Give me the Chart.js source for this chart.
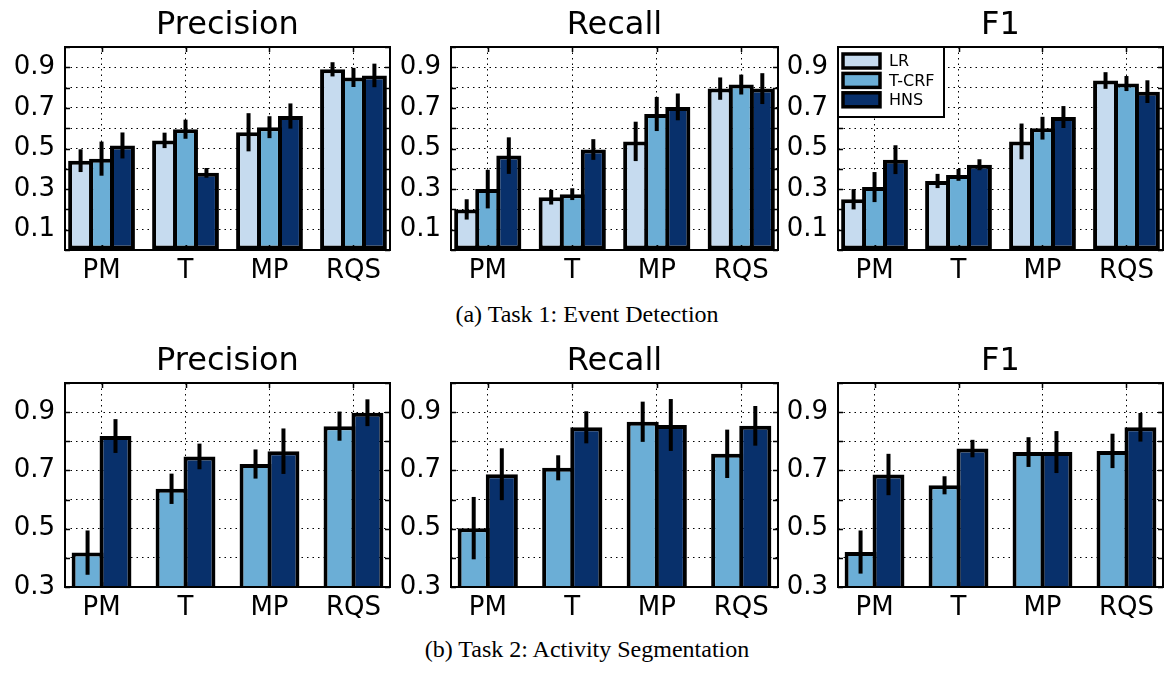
<!DOCTYPE html>
<html>
<head>
<meta charset="utf-8">
<script src="https://cdn.jsdelivr.net/npm/chart.js@4.4.1/dist/chart.umd.min.js"></script>
<style>
  body { margin: 0; width: 1166px; height: 673px; background: #fff; position: relative; overflow: hidden; }
  canvas { position: absolute; }
  .caption { position: absolute; left: 0; width: 1174px; text-align: center; font-family: "Liberation Serif", serif; font-size: 24px; line-height: 24px; color: #000; }
</style>
</head>
<body>
<canvas id="p1" width="392" height="290" style="left:0;top:0"></canvas>
<canvas id="p2" width="390" height="290" style="left:392px;top:0"></canvas>
<canvas id="p3" width="384" height="290" style="left:782px;top:0"></canvas>
<div class="caption" style="top:302px">(a) Task 1: Event Detection</div>
<canvas id="p4" width="392" height="291" style="left:0;top:336px"></canvas>
<canvas id="p5" width="390" height="291" style="left:392px;top:336px"></canvas>
<canvas id="p6" width="384" height="291" style="left:782px;top:336px"></canvas>
<div class="caption" style="top:637px">(b) Task 2: Activity Segmentation</div>
<script>
const categories = ["PM", "T", "MP", "RQS"];
const methods = ["LR", "T-CRF", "HNS"];
const methodColors = ["#c6dbef", "#6baed6", "#08306b"];
const topTickLabels = ["0.1", "0.3", "0.5", "0.7", "0.9"];
const bottomTickLabels = ["0.3", "0.5", "0.7", "0.9"];

// Task 1: rows are LR, T-CRF, HNS
const t1Precision = [[0.44, 0.54, 0.58, 0.89], [0.45, 0.595, 0.605, 0.85], [0.515, 0.38, 0.66, 0.86]];
const t1PrecisionErr = [[0.056, 0.038, 0.094, 0.035], [0.084, 0.047, 0.054, 0.047], [0.064, 0.024, 0.062, 0.058]];
const t1Recall = [[0.2, 0.26, 0.535, 0.795], [0.3, 0.275, 0.67, 0.815], [0.465, 0.495, 0.705, 0.795]];
const t1RecallErr = [[0.05, 0.036, 0.097, 0.055], [0.095, 0.029, 0.084, 0.049], [0.09, 0.051, 0.066, 0.076]];
const t1F1 = [[0.25, 0.34, 0.535, 0.835], [0.31, 0.37, 0.6, 0.82], [0.445, 0.42, 0.655, 0.78]];
const t1F1Err = [[0.05, 0.035, 0.088, 0.041], [0.074, 0.029, 0.056, 0.037], [0.071, 0.027, 0.054, 0.056]];

// Task 2: rows are T-CRF, HNS
const t2Precision = [[0.418, 0.637, 0.722, 0.852], [0.818, 0.748, 0.766, 0.898]];
const t2PrecisionErr = [[0.076, 0.052, 0.05, 0.05], [0.058, 0.044, 0.078, 0.046]];
const t2Recall = [[0.502, 0.709, 0.867, 0.757], [0.687, 0.848, 0.856, 0.853]];
const t2RecallErr = [[0.107, 0.043, 0.069, 0.083], [0.089, 0.055, 0.089, 0.068]];
const t2F1 = [[0.42, 0.649, 0.763, 0.767], [0.686, 0.775, 0.763, 0.848]];
const t2F1Err = [[0.074, 0.031, 0.051, 0.059], [0.071, 0.03, 0.072, 0.049]];

const FONT = "DejaVu Sans";
const xPad = 0.435;

// category axis with matplotlib-like margins instead of half a category
class PaddedCategoryScale extends Chart.CategoryScale {
  configure() {
    super.configure();
    this._startValue = -xPad;
    this._valueRange = this.getLabels().length - 1 + 2 * xPad;
  }
}
PaddedCategoryScale.id = "paddedCategory";
PaddedCategoryScale.defaults = Chart.CategoryScale.defaults;
Chart.register(PaddedCategoryScale);

const errorBars = {
  id: "errorBars",
  afterDatasetsDraw(chart) {
    const { ctx } = chart;
    const y = chart.scales.y;
    ctx.save();
    ctx.strokeStyle = "#000";
    ctx.lineWidth = 4;
    chart.data.datasets.forEach((ds, di) => {
      chart.getDatasetMeta(di).data.forEach((bar, i) => {
        const v = ds.data[i];
        const e = ds.errors[i];
        ctx.beginPath();
        ctx.moveTo(bar.x, y.getPixelForValue(v + e));
        ctx.lineTo(bar.x, y.getPixelForValue(v - e));
        ctx.stroke();
      });
    });
    ctx.restore();
  },
};

const frame = {
  id: "frame",
  afterDraw(chart) {
    const { ctx, chartArea: a } = chart;
    const x = chart.scales.x;
    const y = chart.scales.y;
    ctx.save();
    ctx.strokeStyle = "#000";
    ctx.lineWidth = 1.5;
    ctx.beginPath();
    y.ticks.forEach((t) => {
      const py = Math.round(y.getPixelForValue(t.value)) + 0.5;
      ctx.moveTo(a.left, py); ctx.lineTo(a.left + 5, py);
      ctx.moveTo(a.right, py); ctx.lineTo(a.right - 5, py);
    });
    x.ticks.forEach((t, i) => {
      const px = Math.round(x.getPixelForTick(i)) + 0.5;
      ctx.moveTo(px, a.top); ctx.lineTo(px, a.top + 5);
      ctx.moveTo(px, a.bottom); ctx.lineTo(px, a.bottom - 5);
    });
    ctx.stroke();
    ctx.lineWidth = 2;
    ctx.strokeRect(a.left, a.top, a.right - a.left, a.bottom - a.top);
    ctx.restore();
  },
};

const boxLegend = {
  id: "boxLegend",
  afterDraw(chart) {
    const { ctx, chartArea: a } = chart;
    ctx.save();
    ctx.fillStyle = "#fff";
    ctx.fillRect(a.left, a.top, 106, 70);
    ctx.strokeStyle = "#000";
    ctx.lineWidth = 2;
    ctx.strokeRect(a.left, a.top, 106, 70);
    ctx.font = "16px '" + FONT + "'";
    ctx.textBaseline = "middle";
    chart.data.datasets.forEach((ds, i) => {
      const cy = a.top + 14 + i * 19.4;
      ctx.fillStyle = ds.backgroundColor;
      ctx.fillRect(a.left + 5, cy - 7, 37, 14);
      ctx.lineWidth = 3.5;
      ctx.strokeRect(a.left + 5, cy - 7, 37, 14);
      ctx.fillStyle = "#000";
      ctx.fillText(ds.label, a.left + 51, cy + 1);
    });
    ctx.restore();
  },
};

function makePanel(id, p) {
  const ticksShown = p.yMin === 0 ? topTickLabels : bottomTickLabels;
  const datasets = p.values.map((vals, k) => ({
    label: methods[p.methodIdx[k]],
    data: vals,
    errors: p.errors[k],
    backgroundColor: methodColors[p.methodIdx[k]],
    borderColor: "#000",
    borderWidth: 4,
    borderSkipped: false,
    categoryPercentage: p.catPct,
    barPercentage: p.barPct,
  }));
  const plugins = [errorBars, frame];
  if (p.legend) plugins.push(boxLegend);
  new Chart(document.getElementById(id), {
    type: "bar",
    data: { labels: categories, datasets },
    plugins,
    options: {
      responsive: false,
      animation: false,
      devicePixelRatio: 1,
      layout: { padding: { left: 0, right: p.padRight, top: 0, bottom: 0 } },
      plugins: {
        legend: { display: false },
        tooltip: { enabled: false },
        title: {
          display: true,
          text: p.title,
          fullSize: false,
          color: "#000",
          font: { family: FONT, size: 32, weight: "normal", lineHeight: 1.2 },
          padding: { top: 6, bottom: 2.6 },
        },
      },
      scales: {
        x: {
          type: "paddedCategory",
          grid: { offset: false, drawTicks: false, color: "#000", lineWidth: 1 },
          border: { display: false, dash: [1.5, 4] },
          ticks: { color: "#000", font: { family: FONT, size: 26 }, padding: 6, maxRotation: 0, autoSkip: false },
          afterFit: (s) => { s.height = 40; },
        },
        y: {
          min: p.yMin,
          max: 1,
          grid: { drawTicks: false, color: "#000", lineWidth: 1 },
          border: { display: false, dash: [1.5, 4] },
          ticks: {
            stepSize: 0.1,
            autoSkip: false,
            color: "#000",
            padding: 10,
            font: { family: FONT, size: 26 },
            callback: (v) => (ticksShown.includes(v.toFixed(1)) ? v.toFixed(1) : ""),
          },
          afterFit: (s) => { s.width = p.yWidth; },
        },
      },
    },
  });
}

const top3 = { yMin: 0, methodIdx: [0, 1, 2], catPct: 0.748, barPct: 1.19 };
const bot2 = { yMin: 0.3, methodIdx: [1, 2], catPct: 0.665, barPct: 1.143 };

makePanel("p1", { ...top3, title: "Precision", values: t1Precision, errors: t1PrecisionErr, yWidth: 65, padRight: 2 });
makePanel("p2", { ...top3, title: "Recall", values: t1Recall, errors: t1RecallErr, yWidth: 59, padRight: 4 });
makePanel("p3", { ...top3, title: "F1", values: t1F1, errors: t1F1Err, yWidth: 56, padRight: 3, legend: true });
makePanel("p4", { ...bot2, title: "Precision", values: t2Precision, errors: t2PrecisionErr, yWidth: 65, padRight: 2 });
makePanel("p5", { ...bot2, title: "Recall", values: t2Recall, errors: t2RecallErr, yWidth: 59, padRight: 4 });
makePanel("p6", { ...bot2, title: "F1", values: t2F1, errors: t2F1Err, yWidth: 56, padRight: 3 });
</script>
</body>
</html>
